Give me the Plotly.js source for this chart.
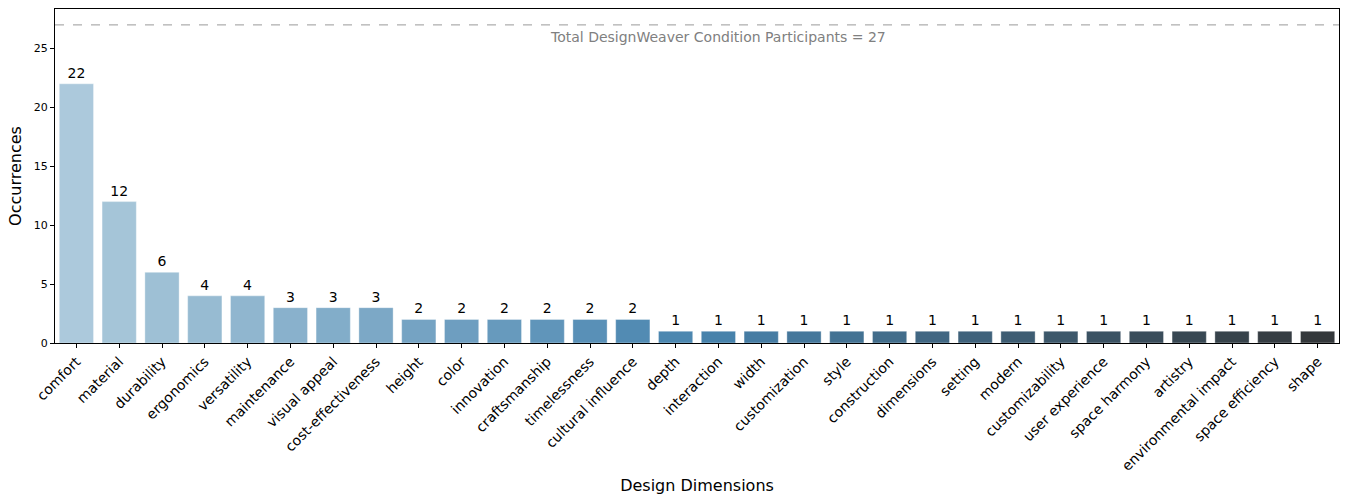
<!DOCTYPE html>
<html>
<head>
<meta charset="utf-8">
<script src="https://cdn.plot.ly/plotly-3.0.1.min.js"></script>
<style>html,body{margin:0;padding:0;background:#fff;}#chart{width:1345px;height:495px;}</style>
</head>
<body>
<div id="chart"></div>
<script>
const categories = ["comfort","material","durability","ergonomics","versatility","maintenance","visual appeal","cost-effectiveness","height","color","innovation","craftsmanship","timelessness","cultural influence","depth","interaction","width","customization","style","construction","dimensions","setting","modern","customizability","user experience","space harmony","artistry","environmental impact","space efficiency","shape"];
const occurrences = [22,12,6,4,4,3,3,3,2,2,2,2,2,2,1,1,1,1,1,1,1,1,1,1,1,1,1,1,1,1];
const totalParticipants = 27;
const annotationText = "Total DesignWeaver Condition Participants = " + totalParticipants;

// seaborn "Blues_d" palette with barplot saturation 0.75
function rgb2hls(r,g,b){const mx=Math.max(r,g,b),mn=Math.min(r,g,b);const l=(mx+mn)/2;let h=0,s=0;if(mx!==mn){const d=mx-mn;s=l>0.5?d/(2-mx-mn):d/(mx+mn);if(mx===r)h=((g-b)/d+(g<b?6:0));else if(mx===g)h=(b-r)/d+2;else h=(r-g)/d+4;h/=6;}return [h,l,s];}
function hue2rgb(p,q,t){if(t<0)t+=1;if(t>1)t-=1;if(t<1/6)return p+(q-p)*6*t;if(t<1/2)return q;if(t<2/3)return p+(q-p)*(2/3-t)*6;return p;}
function hls2rgb(h,l,s){if(s===0)return [l,l,l];const q=l<0.5?l*(1+s):l+s-l*s;const p=2*l-q;return [hue2rgb(p,q,h+1/3),hue2rgb(p,q,h),hue2rgb(p,q,h-1/3)];}
function palette(n){
  const stops=[[171/255,208/255,230/255],[55/255,135/255,192/255],[51/255,51/255,51/255]];
  const out=[];
  for(let i=0;i<n;i++){
    const t=(i+1)/(n+1);
    const seg=t<0.5?0:1; const f=(t-seg*0.5)*2;
    const a=stops[seg],b=stops[seg+1];
    const c=[0,1,2].map(k=>a[k]+(b[k]-a[k])*f);
    const [h,l,s]=rgb2hls(c[0],c[1],c[2]);
    const r=hls2rgb(h,l,s*0.75);
    out.push('rgb('+r.map(v=>Math.round(v*255)).join(',')+')');
  }
  return out;
}
const colors = palette(categories.length);

const trace = {
  type:'bar', x:categories, y:occurrences,
  marker:{color:colors, line:{color:'rgba(255,255,255,0.35)', width:1}},
  width:0.8,
  text:occurrences.map(String), textposition:'outside', cliponaxis:false,
  textfont:{family:'DejaVu Sans', size:14, color:'#000'},
  hoverinfo:'x+y'
};

const layout = {
  width:1345, height:495,
  margin:{l:55, r:6, t:9, b:152},
  paper_bgcolor:'#fff', plot_bgcolor:'#fff',
  font:{family:'DejaVu Sans', color:'#000'},
  showlegend:false,
  bargap:0.2,
  xaxis:{
    type:'category', range:[-0.5, categories.length-0.5],
    tickangle:-45, tickfont:{size:14, color:'#000'},
    ticks:'outside', ticklen:4, tickcolor:'#000',
    showline:true, linecolor:'#000', linewidth:1, mirror:true,
    showgrid:false, zeroline:false,
    title:{text:'Design Dimensions', font:{size:16}, standoff:8}
  },
  yaxis:{
    range:[0, totalParticipants*1.05],
    tickvals:[0,5,10,15,20,25],
    tickfont:{size:11, color:'#000'},
    ticks:'outside', ticklen:4, tickcolor:'#000',
    showline:true, linecolor:'#000', linewidth:1, mirror:true,
    showgrid:false, zeroline:false,
    title:{text:'Occurrences', font:{size:16}, standoff:8}
  },
  shapes:[{type:'line', xref:'paper', x0:0, x1:1, yref:'y', y0:totalParticipants, y1:totalParticipants,
    line:{color:'#999', width:1, dash:'dash'}}],
  annotations:[{x:(categories.length)/2, xref:'x', y:totalParticipants, yref:'y', yanchor:'top', xanchor:'center',
    yshift:-2, text:annotationText, showarrow:false, font:{size:14, color:'#808080'}}]
};

Plotly.newPlot('chart', [trace], layout, {displayModeBar:false, staticPlot:true});
</script>
</body>
</html>
